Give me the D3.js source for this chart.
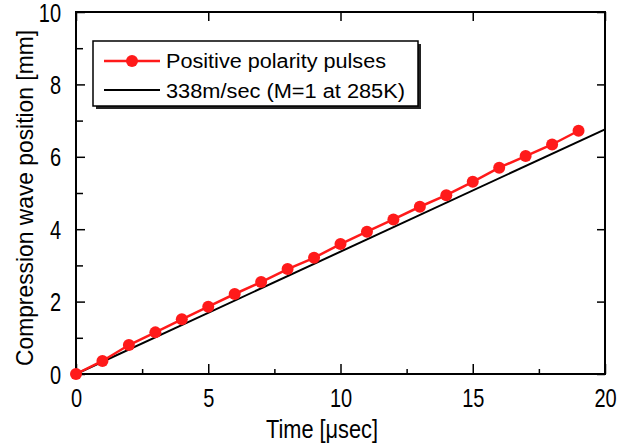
<!DOCTYPE html>
<html><head><meta charset="utf-8">
<script src="https://cdn.jsdelivr.net/npm/d3@7"></script>
<style>body{margin:0;background:#fff}svg{display:block}</style>
</head><body>
<script>
const times = [0,1,2,3,4,5,6,7,8,9,10,11,12,13,14,15,16,17,18,19];
const positions = [0,0.36,0.80,1.15,1.51,1.86,2.21,2.54,2.90,3.21,3.59,3.93,4.27,4.62,4.94,5.31,5.70,6.02,6.34,6.72];
const soundSpeed = 0.338; // mm/usec (338 m/s)
const lineTimes = [0, 20];
const xTicks = [0,5,10,15,20];
const xMinor = [2.5,7.5,12.5,17.5];
const yTicks = [0,2,4,6,8,10];
const yMinor = [1,3,5,7,9];
const legendLabels = ["Positive polarity pulses", "338m/sec (M=1 at 285K)"];
const xTitle = "Time [\u03BCsec]";
const yTitle = "Compression wave position [mm]";

const W = 619, H = 448;
const L = 76, R = 605, T = 12, B = 374;
const sans = "'Liberation Sans',Arial,Helvetica,sans-serif";
const NARROW = 0.8;

function squeeze(sel, factor, target) {
  sel.each(function(d, i) {
    const l = this.getComputedTextLength();
    const t = target ? (Array.isArray(target) ? target[i] : target) : l * factor;
    d3.select(this).attr("textLength", t).attr("lengthAdjust", "spacingAndGlyphs");
  });
}

const svg = d3.select("body").append("svg").attr("width", W).attr("height", H);
svg.append("rect").attr("width", W).attr("height", H).attr("fill", "#fff");

const x = d3.scaleLinear().domain([0,20]).range([L,R]);
const y = d3.scaleLinear().domain([0,10]).range([B,T]);

// ticks inside
svg.append("g").attr("transform", `translate(0,${B})`)
  .call(d3.axisTop(x).tickValues(xTicks).tickSize(10).tickFormat(""));
svg.append("g").attr("transform", `translate(0,${B})`)
  .call(d3.axisTop(x).tickValues(xMinor).tickSize(5).tickFormat(""));
svg.append("g").attr("transform", `translate(0,${T})`)
  .call(d3.axisBottom(x).tickValues(xTicks).tickSize(9).tickFormat(""));
svg.append("g").attr("transform", `translate(${L},0)`)
  .call(d3.axisRight(y).tickValues(yTicks).tickSize(9).tickFormat(""));
svg.append("g").attr("transform", `translate(${L},0)`)
  .call(d3.axisRight(y).tickValues(yMinor).tickSize(7).tickFormat(""));
svg.append("g").attr("transform", `translate(${R},0)`)
  .call(d3.axisLeft(y).tickValues(yTicks).tickSize(8).tickFormat(""));
svg.selectAll(".domain").remove();
svg.selectAll(".tick line").attr("stroke", "#000").attr("stroke-width", 1.5);

// tick labels (horizontally condensed)
const gxl = svg.append("g").attr("transform", `translate(0,${B})`)
  .call(d3.axisBottom(x).tickValues(xTicks).tickSize(0).tickPadding(0).tickFormat(d3.format("d")));
gxl.select(".domain").remove();
gxl.selectAll("text").attr("dy", null).attr("y", 33).attr("fill", "#000")
  .attr("transform", `scale(${NARROW},1)`)
  .style("font-family", sans).style("font-size", "25px");
const gyl2 = svg.append("g").attr("transform", `translate(${L},0)`)
  .call(d3.axisLeft(y).tickValues(yTicks).tickSize(0).tickPadding(0).tickFormat(d3.format("d")));
gyl2.select(".domain").remove();
gyl2.selectAll("text").attr("x", -15 / NARROW).attr("dy", "0.36em").attr("fill", "#000")
  .attr("transform", `scale(${NARROW},1)`)
  .style("font-family", sans).style("font-size", "25px");

// frame
svg.append("rect").attr("x", L).attr("y", T).attr("width", R-L).attr("height", B-T)
  .attr("fill", "none").attr("stroke", "#000").attr("stroke-width", 2);

// theory line
const lineData = lineTimes.map(t => [t, soundSpeed*t]);
const line = d3.line().x(d => x(d[0])).y(d => y(d[1]));
svg.append("path").datum(lineData).attr("d", line)
  .attr("fill", "none").attr("stroke", "#000").attr("stroke-width", 2);

// data
const pts = times.map((t,i) => [t, positions[i]]);
svg.append("path").datum(pts).attr("d", line)
  .attr("fill", "none").attr("stroke", "#ff1a1a").attr("stroke-width", 2.5);
svg.append("g").selectAll("circle").data(pts).join("circle")
  .attr("cx", d => x(d[0])).attr("cy", d => y(d[1])).attr("r", 6).attr("fill", "#ff1a1a");

// titles
const xt = svg.append("text").attr("x", 322).attr("y", 438).attr("text-anchor", "middle")
  .style("font-family", sans).style("font-size", "25px").attr("fill", "#000").text(xTitle);
squeeze(xt, 1, 112);
const yt = svg.append("text").attr("transform", `translate(33,198) rotate(-90)`)
  .attr("text-anchor", "middle")
  .style("font-family", sans).style("font-size", "24px").attr("fill", "#000").text(yTitle);
squeeze(yt, 1, 336);

// legend
const lg = svg.append("g");
lg.append("rect").attr("x", 96).attr("y", 44).attr("width", 325).attr("height", 65).attr("fill", "#222");
lg.append("rect").attr("x", 93).attr("y", 41).attr("width", 325).attr("height", 65)
  .attr("fill", "#fff").attr("stroke", "#000").attr("stroke-width", 1.5);
lg.append("line").attr("x1", 104).attr("x2", 160).attr("y1", 61).attr("y2", 61)
  .attr("stroke", "#ff1a1a").attr("stroke-width", 2.5);
lg.append("circle").attr("cx", 132).attr("cy", 61).attr("r", 6).attr("fill", "#ff1a1a");
lg.append("line").attr("x1", 104).attr("x2", 160).attr("y1", 90).attr("y2", 90)
  .attr("stroke", "#000").attr("stroke-width", 2);
const lt = lg.selectAll("text.lab").data(legendLabels).join("text").attr("class", "lab")
  .attr("x", 166).attr("y", (d,i) => 68 + i*30)
  .style("font-family", sans).style("font-size", "20px").attr("fill", "#000").text(d => d);
squeeze(lt, 1, [220, 239]);
</script>
</body></html>
